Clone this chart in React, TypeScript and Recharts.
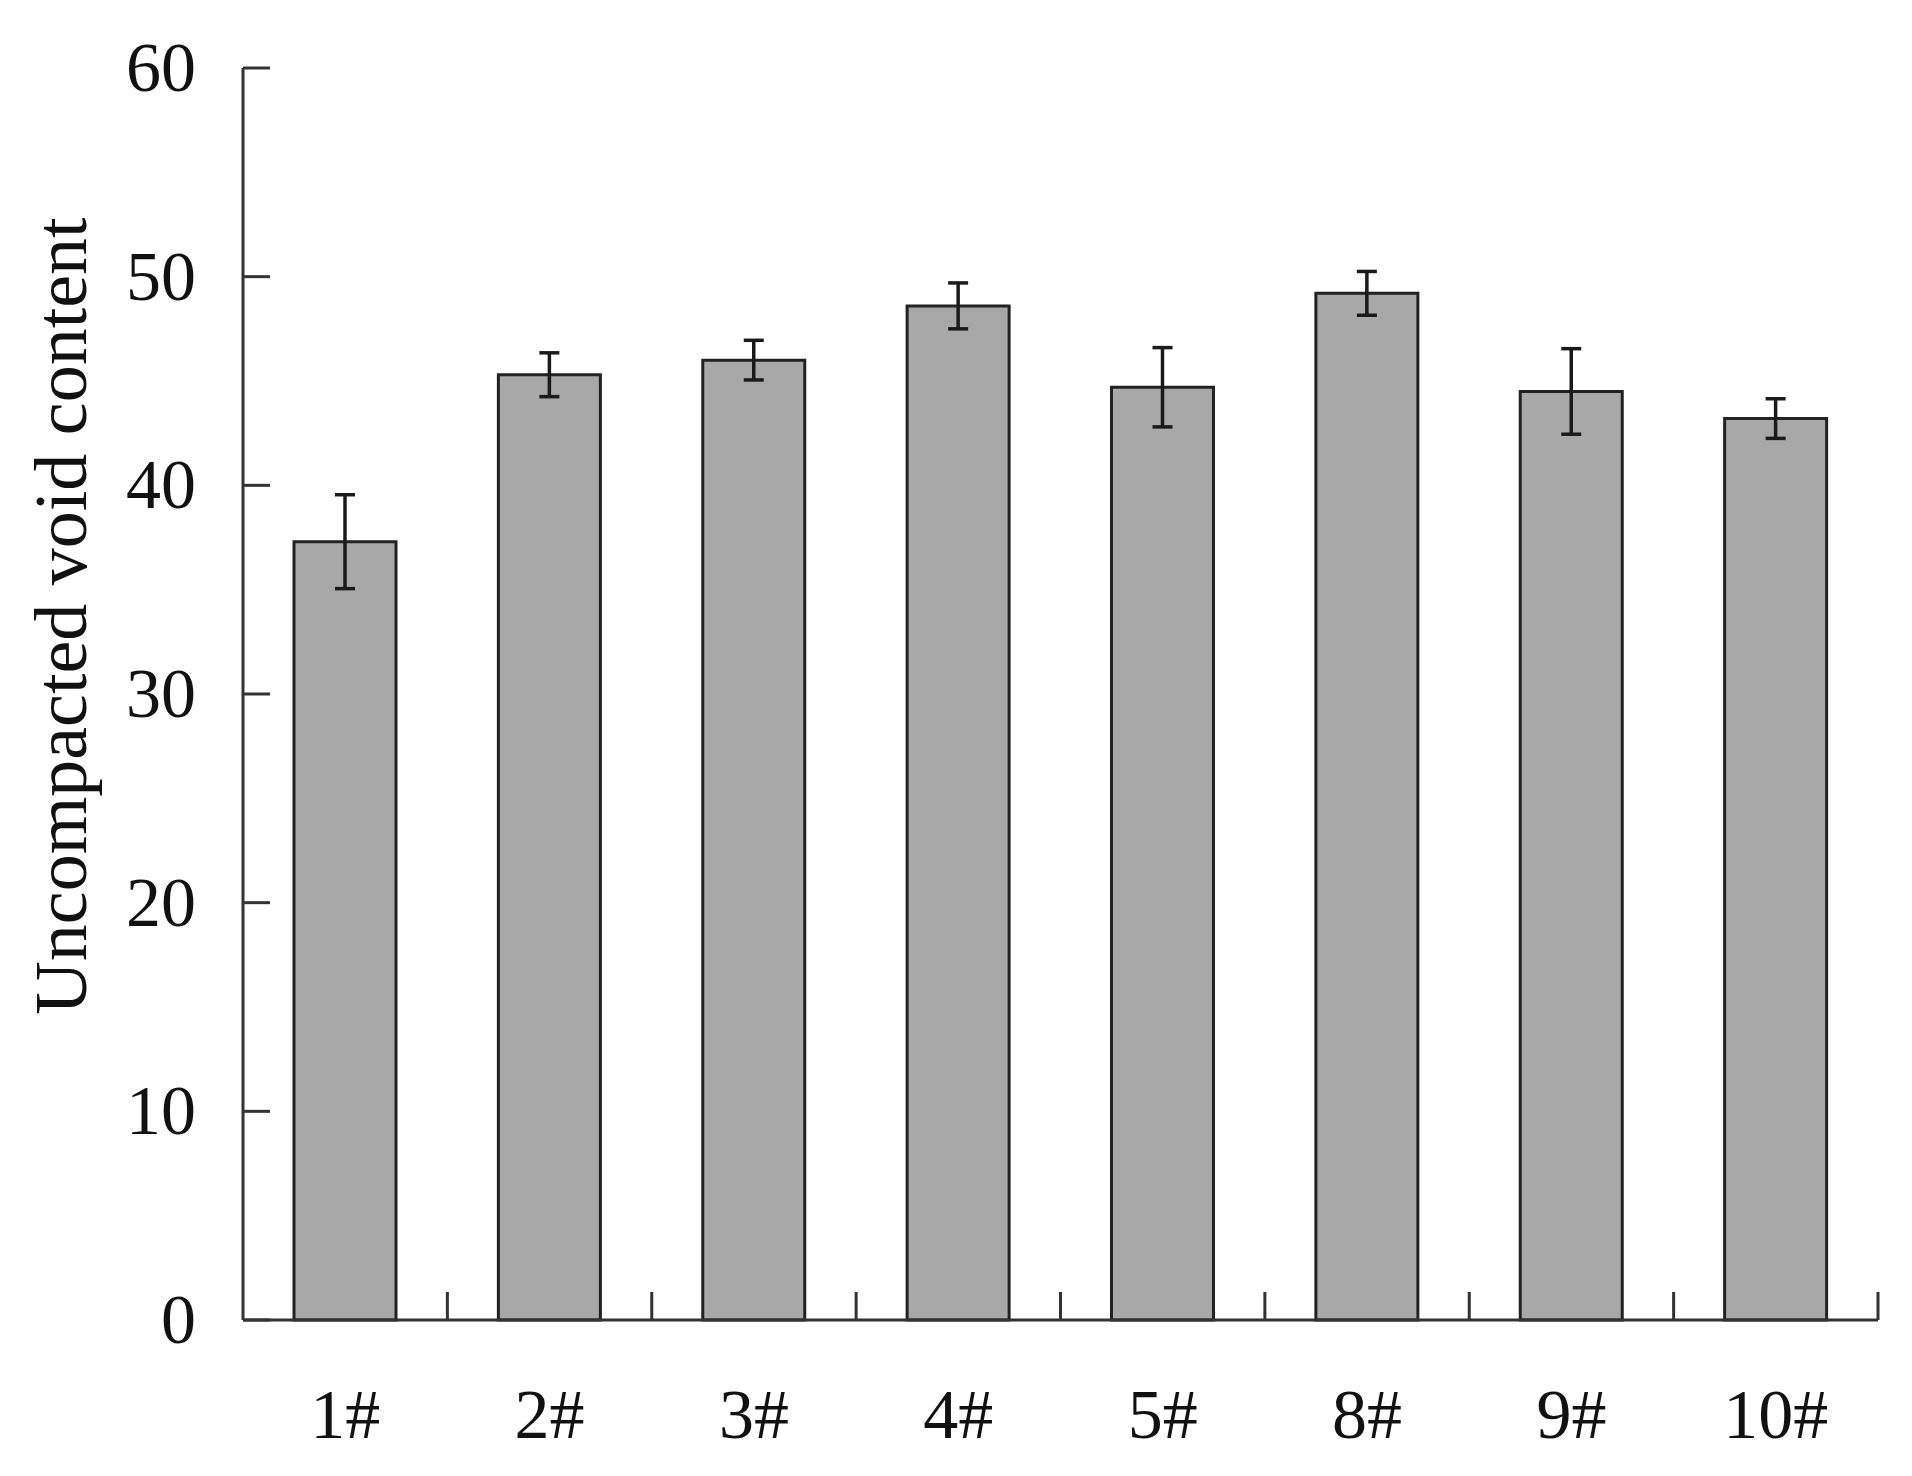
import React from 'react';
import { BarChart, Bar, XAxis, YAxis, ErrorBar } from 'recharts';

// mixtures on the x axis
const samples = ['1#', '2#', '3#', '4#', '5#', '8#', '9#', '10#'];
// uncompacted void content (%)
const voidContent = [37.3, 45.3, 46.0, 48.6, 44.7, 49.2, 44.5, 43.2];
// error bar half-range
const voidError = [2.25, 1.05, 0.95, 1.1, 1.9, 1.05, 2.05, 0.95];
const yTicks = [0, 10, 20, 30, 40, 50, 60];

const data = samples.map((name, i) => ({ name, value: voidContent[i], err: voidError[i] }));

const W = 1912;
const H = 1476;
const PLOT_LEFT = 243;
const PLOT_RIGHT = 1878;
const FONT = '"Liberation Serif", "Times New Roman", serif';
const INK = '#111';
const AXIS = '#333';
const bandWidth = (PLOT_RIGHT - PLOT_LEFT) / samples.length;

const YTick = (props: any) => {
  const { x, y, payload } = props;
  return (
    <g>
      <line x1={x} y1={y} x2={x + 27} y2={y} stroke={AXIS} strokeWidth={3} />
      <text x={x - 47} y={y + 23} textAnchor="end" fontFamily={FONT} fontSize={70} fill={INK}>
        {payload.value}
      </text>
    </g>
  );
};

const XTick = (props: any) => {
  const { x, y, payload } = props;
  const edge = x + bandWidth / 2;
  return (
    <g>
      <line x1={edge} y1={y} x2={edge} y2={y - 28} stroke={AXIS} strokeWidth={3} />
      <text x={x} y={y + 118} textAnchor="middle" fontFamily={FONT} fontSize={70} fill={INK}>
        {payload.value}
      </text>
    </g>
  );
};

const YLabel = (props: any) => {
  const { viewBox } = props;
  const cx = viewBox.x - 82;
  const cy = viewBox.y + viewBox.height / 2 - 78;
  return (
    <text
      x={cx}
      y={cy}
      transform={`rotate(-90, ${cx}, ${cy})`}
      textAnchor="middle"
      dominantBaseline="central"
      fontFamily={FONT}
      fontSize={74}
      fill={INK}
    >
      Uncompacted void content
    </text>
  );
};

export default function App() {
  return (
    <div style={{ position: 'absolute', left: 0, top: 0, background: '#fff' }}>
      <BarChart
        width={W}
        height={H}
        data={data}
        margin={{ top: 68, right: W - PLOT_RIGHT, bottom: 56, left: PLOT_LEFT - 100 }}
        barSize={102}
      >
        <XAxis
          dataKey="name"
          height={100}
          tickSize={0}
          tickMargin={0}
          tickLine={false}
          axisLine={{ stroke: AXIS, strokeWidth: 3 }}
          tick={<XTick />}
          interval={0}
        />
        <YAxis
          width={100}
          domain={[0, 60]}
          ticks={yTicks}
          tickSize={0}
          tickMargin={0}
          tickLine={false}
          axisLine={{ stroke: AXIS, strokeWidth: 3 }}
          tick={<YTick />}
          label={<YLabel />}
        />
        <Bar dataKey="value" fill="#a8a8a8" stroke="#222" strokeWidth={3} isAnimationActive={false}>
          <ErrorBar dataKey="err" width={10} stroke="#1a1a1a" strokeWidth={3.5} direction="y" />
        </Bar>
      </BarChart>
    </div>
  );
}
